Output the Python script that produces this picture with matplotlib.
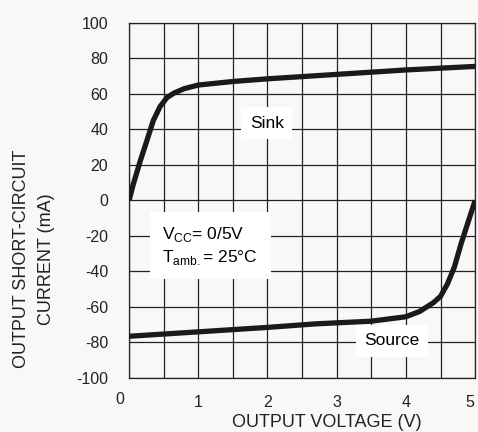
import matplotlib
matplotlib.use("Agg")
import matplotlib.pyplot as plt
import matplotlib.transforms as mtransforms

plt.rcParams["font.family"] = ["Liberation Sans", "DejaVu Sans"]
plt.rcParams["axes.unicode_minus"] = False

# curves
sink_v = [0, 0.06, 0.16, 0.26, 0.35, 0.45, 0.55, 0.65, 0.8, 1.0, 1.5, 2.0, 3.0, 4.0, 5.0]
sink_i = [0, 9, 22, 34, 45, 53, 58, 60.5, 63, 65, 67, 68.5, 71, 73.5, 75.5]

source_v = [0, 1, 2, 2.7, 3.5, 4.0, 4.2, 4.3, 4.4, 4.5, 4.6, 4.7, 4.8, 4.9, 5.0]
source_i = [-76.5, -74, -71.5, -69.5, -68, -65.5, -62.5, -60, -57.5, -54, -47, -37.5, -24, -12, 0]

x_ticks = [0, 1, 2, 3, 4, 5]
y_ticks = [-100, -80, -60, -40, -20, 0, 20, 40, 60, 80, 100]

bg = "#f8f8f6"
ink = "#1a1a1a"

fig = plt.figure(figsize=(4.78, 4.32), dpi=100, facecolor=bg)
ax = fig.add_axes([0.270, 0.125, 0.724, 0.822], facecolor=bg)

ax.set_xlim(0, 5)
ax.set_ylim(-100, 100)

# grid every 0.5 V and 20 mA
ax.set_xticks([i * 0.5 for i in range(11)], minor=True)
ax.set_xticks(x_ticks)
ax.set_yticks(y_ticks)
ax.grid(True, which="both", color="#222222", linewidth=0.9)
ax.tick_params(which="both", length=0)
ax.tick_params(axis="y", pad=15, labelsize=11.5, colors="#222222")
ax.tick_params(axis="x", pad=12, labelsize=11.5, colors="#222222")
for s in ax.spines.values():
    s.set_color("#222222")
    s.set_linewidth(0.9)

ax.plot(sink_v, sink_i, color=ink, linewidth=3.8, solid_capstyle="butt", zorder=3)
ax.plot(source_v, source_i, color=ink, linewidth=3.8, solid_capstyle="butt", zorder=3)

# "0" on the x axis sits left of the corner; keep "5" inside the canvas
fig.canvas.draw()
xlabels = ax.get_xticklabels()
xlabels[0].set_transform(xlabels[0].get_transform()
                         + mtransforms.ScaledTranslation(-9 / 100, 3 / 100, fig.dpi_scale_trans))
xlabels[-1].set_transform(xlabels[-1].get_transform()
                          + mtransforms.ScaledTranslation(-5 / 100, 0, fig.dpi_scale_trans))

box = dict(facecolor="white", edgecolor="none", pad=6)
ax.text(1.99, 43.5, "Sink", fontsize=12.5, ha="center", va="center", bbox=box, zorder=4)
ax.text(3.8, -79, "Source", fontsize=12.5, ha="center", va="center", bbox=box, zorder=4)
ax.text(0.48, -25.5,
        "V$_{\\mathregular{CC}}$= 0/5V\nT$_{\\mathregular{amb.}}$= 25°C",
        fontsize=12.5, ha="left", va="center", linespacing=1.3,
        bbox=dict(facecolor="white", edgecolor="none", pad=9), zorder=4)

fig.text(0.684, 0.022, "OUTPUT VOLTAGE (V)", fontsize=13, ha="center", va="center", color="#222222")
fig.text(0.071, 0.40, "OUTPUT SHORT-CIRCUIT\nCURRENT (mA)", fontsize=13, rotation=90,
         ha="center", va="center", linespacing=1.6, color="#222222")

fig.savefig("out.png", dpi=100, facecolor=bg)
